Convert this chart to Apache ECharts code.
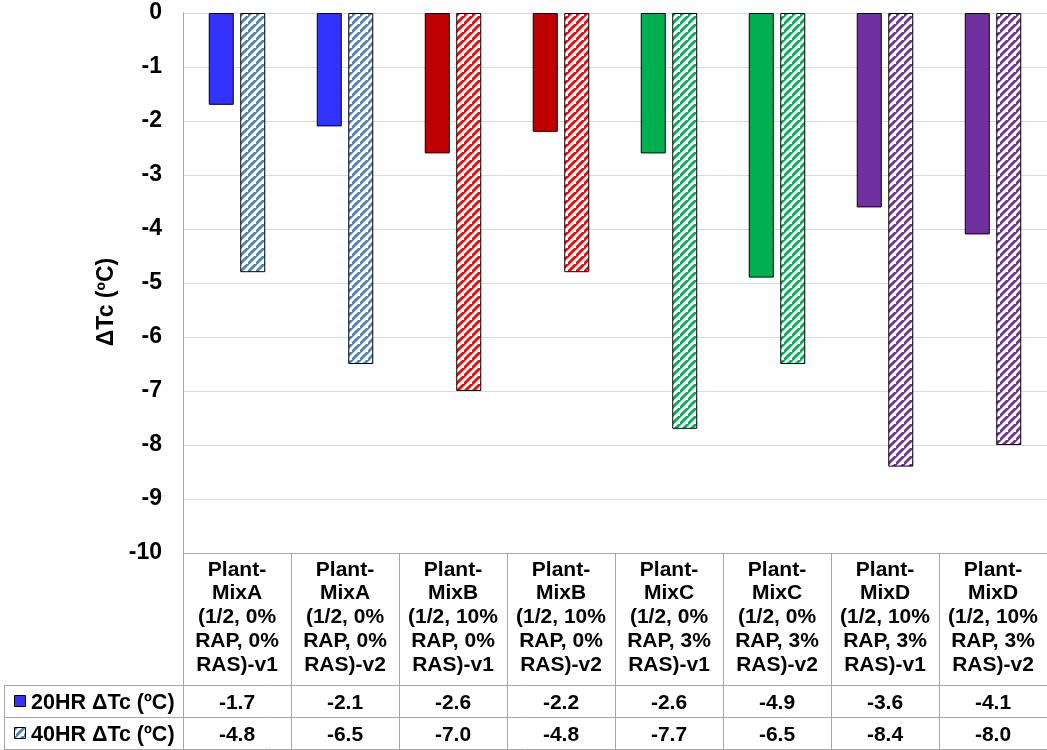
<!DOCTYPE html>
<html><head><meta charset="utf-8">
<script src="https://cdn.jsdelivr.net/npm/echarts@6/dist/echarts.min.js"></script>
<style>html,body{margin:0;padding:0;background:#fff;overflow:hidden}#c{width:1047px;height:750px}</style>
</head><body><div id="c"></div>
<script>
const categories = [
  "Plant-\nMixA\n(1/2, 0%\nRAP, 0%\nRAS)-v1",
  "Plant-\nMixA\n(1/2, 0%\nRAP, 0%\nRAS)-v2",
  "Plant-\nMixB\n(1/2, 10%\nRAP, 0%\nRAS)-v1",
  "Plant-\nMixB\n(1/2, 10%\nRAP, 0%\nRAS)-v2",
  "Plant-\nMixC\n(1/2, 0%\nRAP, 3%\nRAS)-v1",
  "Plant-\nMixC\n(1/2, 0%\nRAP, 3%\nRAS)-v2",
  "Plant-\nMixD\n(1/2, 10%\nRAP, 3%\nRAS)-v1",
  "Plant-\nMixD\n(1/2, 10%\nRAP, 3%\nRAS)-v2"
];
const series20Name = "20HR ΔTc (ºC)";
const series40Name = "40HR ΔTc (ºC)";
const yAxisName = "ΔTc (ºC)";
const values20 = [-1.7, -2.1, -2.6, -2.2, -2.6, -4.9, -3.6, -4.1];
const values40 = [-4.8, -6.5, -7.0, -4.8, -7.7, -6.5, -8.4, -8.0];
const solidColors = ["#3333FF","#3333FF","#C00000","#C00000","#00B050","#00B050","#7030A0","#7030A0"];
const hatchColors = ["#4F81BD","#4F81BD","#FF0000","#FF0000","#00B050","#00B050","#7030A0","#7030A0"];
const yTicks = {min: -10, max: 0, interval: 1};

function hatchCanvas(color) {
  const s = 8;
  const c = document.createElement('canvas');
  c.width = s; c.height = s;
  const g = c.getContext('2d');
  g.fillStyle = '#fff'; g.fillRect(0, 0, s, s);
  g.strokeStyle = color; g.lineWidth = 2.8;
  g.beginPath();
  g.moveTo(-2, s + 2); g.lineTo(s + 2, -2);
  g.moveTo(-2 - s, s + 2); g.lineTo(2, -2);
  g.moveTo(s - 2, 2 * s + 2); g.lineTo(2 * s + 2, s - 2);
  g.stroke();
  return c;
}
function hatch(color) { return {image: hatchCanvas(color), repeat: 'repeat'}; }

const chart = echarts.init(document.getElementById('c'), null, {renderer: 'canvas'});
const FONT = 'Liberation Sans, Arial, sans-serif';

chart.setOption({
  animation: false,
  backgroundColor: '#fff',
  grid: {left: 183, top: 13, width: 870, height: 540},
  xAxis: {
    type: 'category', data: categories, position: 'bottom',
    axisLine: {onZero: false, lineStyle: {color: '#a6a6a6', width: 1}},
    axisTick: {show: true, interval: 0, length: 197, lineStyle: {color: '#a6a6a6'}},
    axisLabel: {interval: 0, margin: 5, fontFamily: FONT, fontWeight: 'bold', fontSize: 21, lineHeight: 23.75, color: '#000', verticalAlign: 'top'}
  },
  yAxis: {
    type: 'value', min: yTicks.min, max: yTicks.max, interval: yTicks.interval,
    axisLine: {show: true, lineStyle: {color: '#a6a6a6'}},
    axisTick: {show: false},
    splitLine: {lineStyle: {color: '#d9d9d9'}},
    axisLabel: {fontFamily: FONT, fontWeight: 'bold', fontSize: 23, color: '#000', margin: 21}
  },
  series: [
    {name: series20Name, type: 'bar', barWidth: 25, barGap: '26%',
     data: values20.map((v, i) => ({value: v, itemStyle: {color: solidColors[i]}})),
     itemStyle: {borderColor: '#000', borderWidth: 1}},
    {name: series40Name, type: 'bar', barWidth: 25,
     data: values40.map((v, i) => ({value: v, itemStyle: {color: hatch(hatchColors[i])}})),
     itemStyle: {borderColor: '#000', borderWidth: 1}}
  ]
});

const rowTop = 685, rowH = 32;
const els = [];
[rowTop, rowTop + rowH, rowTop + 2 * rowH].forEach(y => {
  els.push({type: 'line', shape: {x1: 4, y1: y + 0.5, x2: 1047, y2: y + 0.5}, style: {stroke: '#a6a6a6', lineWidth: 1}, silent: true});
});
els.push({type: 'line', shape: {x1: 4.5, y1: rowTop, x2: 4.5, y2: rowTop + 2 * rowH}, style: {stroke: '#a6a6a6', lineWidth: 1}});
// y axis name
els.push({type: 'text', x: 107, y: 302, rotation: Math.PI / 2, style: {text: yAxisName, font: 'bold 23px ' + FONT, fill: '#000', align: 'center', verticalAlign: 'middle'}});
// legend keys
els.push({type: 'rect', shape: {x: 14.5, y: rowTop + 10.5, width: 11, height: 11}, style: {fill: solidColors[0], stroke: '#000', lineWidth: 1}});
els.push({type: 'rect', shape: {x: 14.5, y: rowTop + rowH + 10.5, width: 11, height: 11}, style: {fill: hatch(hatchColors[0]), stroke: '#000', lineWidth: 1}});
[series20Name, series40Name].forEach((n, r) => {
  els.push({type: 'text', x: 31, y: rowTop + r * rowH + rowH / 2 + 2, style: {text: n, font: 'bold 21.5px ' + FONT, fill: '#000', verticalAlign: 'middle', align: 'left'}});
});
[values20, values40].forEach((arr, r) => {
  arr.forEach((v, i) => {
    const x = chart.convertToPixel({xAxisIndex: 0}, i);
    els.push({type: 'text', x: x, y: rowTop + r * rowH + rowH / 2 + 2, style: {text: v.toFixed(1), font: 'bold 21px ' + FONT, fill: '#000', align: 'center', verticalAlign: 'middle'}});
  });
});
chart.setOption({graphic: {elements: els}});
</script>
</body></html>
